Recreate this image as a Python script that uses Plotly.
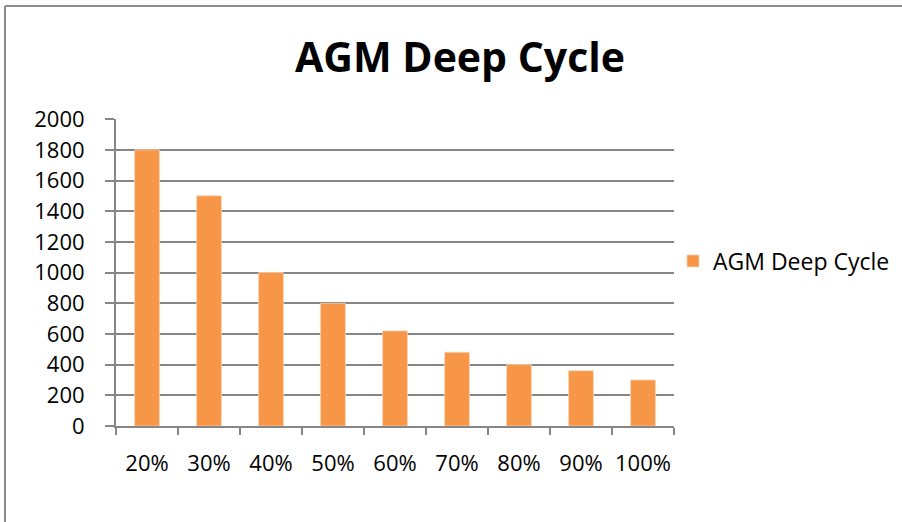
import plotly.graph_objects as go

categories = ["20%", "30%", "40%", "50%", "60%", "70%", "80%", "90%", "100%"]
values = [1800, 1500, 1000, 800, 620, 480, 400, 360, 300]
y_ticks = [0, 200, 400, 600, 800, 1000, 1200, 1400, 1600, 1800, 2000]
series_name = "AGM Deep Cycle"

W, H = 902, 522
L, R, T, B = 116, 674, 119, 426
pw, ph = R - L, B - T

def px_x(x):
    return (x - L) / pw

def px_y(y):
    return (B - y) / ph

fig = go.Figure()
fig.add_trace(go.Bar(
    x=categories, y=values, name=series_name,
    marker=dict(color="#F79646", line=dict(color="#FAD3B4", width=0.8)),
    showlegend=True,
))

font = "Open Sans, Calibri, Lato, sans-serif"
grid = "#868686"

fig.update_layout(
    width=W, height=H,
    margin=dict(l=L, r=W - R, t=T, b=H - B, pad=0, autoexpand=False),
    paper_bgcolor="white", plot_bgcolor="white",
    bargap=0.6,
    font=dict(family=font, size=22, color="black"),
    title=dict(text="<b>AGM Deep Cycle</b>", x=460 / W, xref="container", xanchor="center",
               y=1 - 58 / H, yref="container", yanchor="middle",
               font=dict(family=font, size=41, color="black")),
    showlegend=True,
    legend=dict(x=px_x(673), y=px_y(261), xanchor="left", yanchor="middle",
                font=dict(family=font, size=23), bgcolor="rgba(0,0,0,0)",
                itemwidth=30, tracegroupgap=0),
    xaxis=dict(type="category", showgrid=False, showline=True, linecolor=grid, linewidth=2,
               ticks="outside", tickson="boundaries", ticklen=7, tickwidth=2, tickcolor=grid,
               ticklabelstandoff=17, zeroline=False, tickangle=0, automargin=False,
               tickfont=dict(size=22)),
    yaxis=dict(range=[0, 2001], tickvals=y_ticks, showgrid=True, gridcolor=grid, gridwidth=2,
               showline=True, linecolor=grid, linewidth=2, ticks="outside", ticklen=9,
               tickwidth=2, tickcolor=grid, zeroline=False, ticklabelstandoff=16,
               automargin=False),
)

# outer chart border (top and left visible)
fig.add_shape(type="line", xref="paper", yref="paper",
              x0=px_x(5), x1=px_x(910), y0=px_y(6), y1=px_y(6),
              line=dict(color="#8c8c8c", width=2))
fig.add_shape(type="line", xref="paper", yref="paper",
              x0=px_x(5), x1=px_x(5), y0=px_y(6), y1=px_y(530),
              line=dict(color="#8c8c8c", width=2))

fig.write_html("out.html", config={"displayModeBar": False},
               post_script="document.body.style.margin='0';document.body.style.overflow='hidden';")
